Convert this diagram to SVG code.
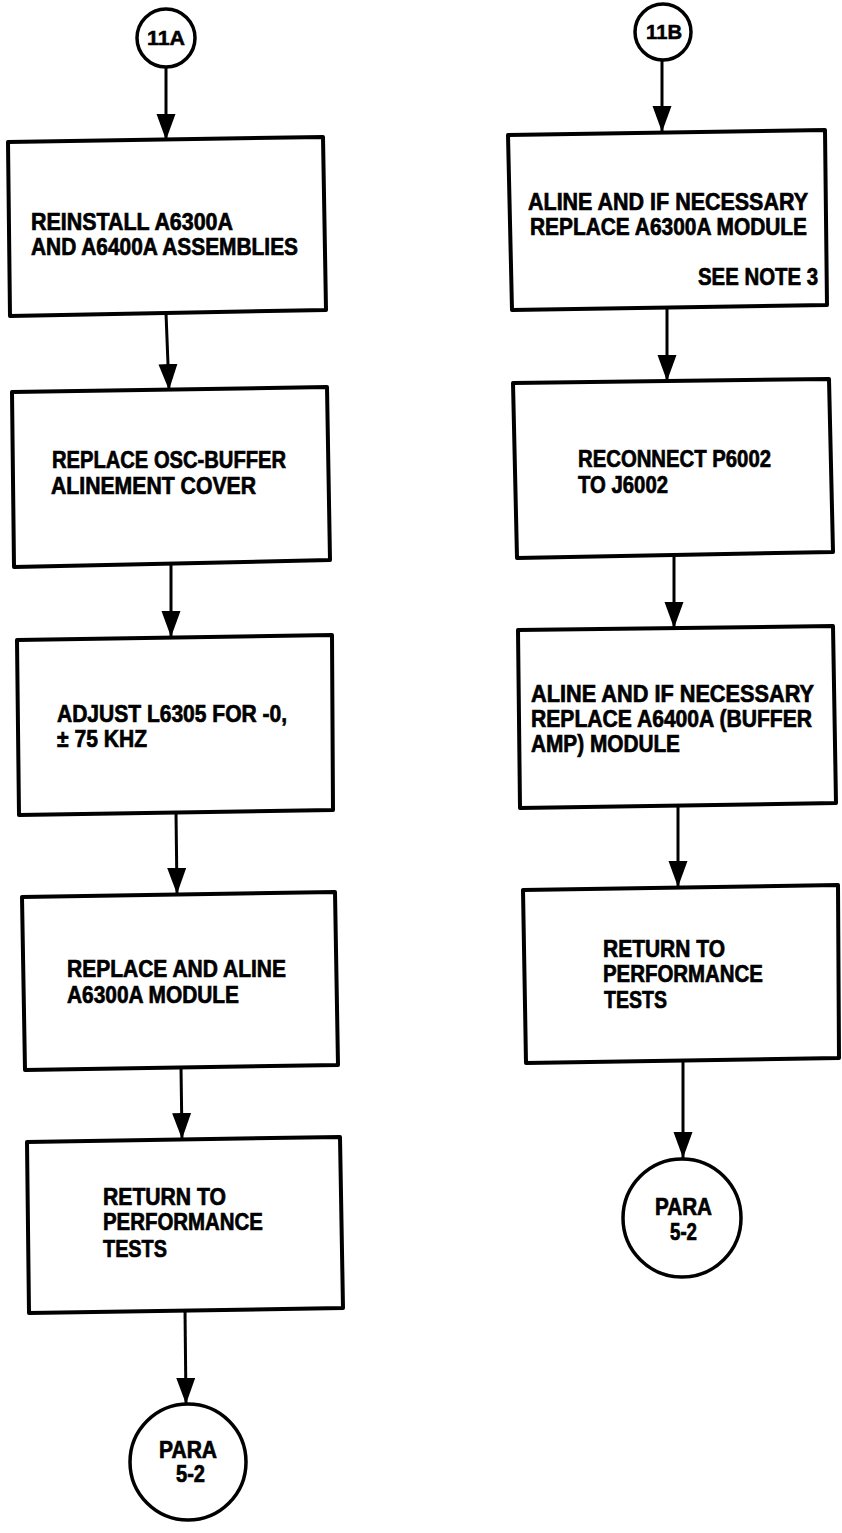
<svg xmlns="http://www.w3.org/2000/svg" width="842" height="1533" viewBox="0 0 842 1533">
  <style>
    .bg { fill: #ffffff; }
    .box { fill: #ffffff; stroke: #000000; stroke-width: 4; stroke-linejoin: round; }
    .term { fill: #ffffff; stroke: #000000; stroke-width: 3.5; }
    .edge { fill: none; stroke: #000000; stroke-width: 3; marker-end: url(#arrow); }
    text { font-family: "Liberation Sans", Arial, sans-serif; font-weight: bold; fill: #000000; stroke: #000000; }
    .t { font-size: 21px; stroke-width: 0.6; }
    .c { font-size: 20px; stroke-width: 0.6; }
    .s { font-size: 18px; stroke-width: 0.5; }
  </style>
  <defs>
    <marker id="arrow" markerUnits="userSpaceOnUse" markerWidth="27" markerHeight="20" refX="26" refY="9.5" orient="auto">
      <path d="M0,0 L26,9.5 L0,19 Z" fill="#000000"/>
    </marker>
  </defs>

  <rect class="bg" x="0" y="0" width="842" height="1533"/>

  <!-- connectors -->
  <g id="connectors">
    <line class="edge" x1="166" y1="67" x2="166" y2="140"/>
    <line class="edge" x1="166" y1="313" x2="169" y2="390"/>
    <line class="edge" x1="171" y1="563" x2="171" y2="637"/>
    <line class="edge" x1="176" y1="812" x2="177" y2="894"/>
    <line class="edge" x1="181" y1="1067" x2="182" y2="1139"/>
    <line class="edge" x1="185" y1="1310" x2="186" y2="1404"/>

    <line class="edge" x1="662" y1="60" x2="662" y2="132"/>
    <line class="edge" x1="667" y1="307" x2="667" y2="381"/>
    <line class="edge" x1="674" y1="555" x2="674" y2="628"/>
    <line class="edge" x1="678" y1="805" x2="678" y2="887"/>
    <line class="edge" x1="683" y1="1060" x2="683" y2="1158"/>
  </g>

  <!-- left column; labels are stretched vertically to get the tall condensed look -->
  <g id="start-11a">
    <circle class="term" cx="166" cy="38" r="29"/>
    <text class="s" transform="translate(147,45) scale(1,1.1)" textLength="38" lengthAdjust="spacingAndGlyphs">11A</text>
  </g>

  <g id="reinstall">
    <polygon class="box" points="8,142 323,137 326,310 10,316"/>
    <text class="t" transform="translate(31,230) scale(1,1.15)" textLength="202" lengthAdjust="spacingAndGlyphs">REINSTALL A6300A</text>
    <text class="t" transform="translate(31,255) scale(1,1.15)" textLength="267" lengthAdjust="spacingAndGlyphs">AND A6400A ASSEMBLIES</text>
  </g>

  <g id="replace-cover">
    <polygon class="box" points="12,392 327,387 330,560 14,567"/>
    <text class="t" transform="translate(52,468) scale(1,1.15)" textLength="234" lengthAdjust="spacingAndGlyphs">REPLACE OSC-BUFFER</text>
    <text class="t" transform="translate(51,494) scale(1,1.15)" textLength="205" lengthAdjust="spacingAndGlyphs">ALINEMENT COVER</text>
  </g>

  <g id="adjust-l6305">
    <polygon class="box" points="17,640 332,635 333,810 19,815"/>
    <text class="t" transform="translate(57,722) scale(1,1.15)" textLength="230" lengthAdjust="spacingAndGlyphs">ADJUST L6305 FOR -0,</text>
    <text class="t" transform="translate(57,747) scale(1,1.15)" textLength="90" lengthAdjust="spacingAndGlyphs">± 75 KHZ</text>
  </g>

  <g id="replace-aline">
    <polygon class="box" points="22,897 335,892 338,1065 25,1070"/>
    <text class="t" transform="translate(67,977) scale(1,1.15)" textLength="219" lengthAdjust="spacingAndGlyphs">REPLACE AND ALINE</text>
    <text class="t" transform="translate(67,1003) scale(1,1.15)" textLength="172" lengthAdjust="spacingAndGlyphs">A6300A MODULE</text>
  </g>

  <g id="return-left">
    <polygon class="box" points="27,1142 340,1137 343,1308 29,1313"/>
    <text class="t" transform="translate(103,1205) scale(1,1.15)" textLength="123" lengthAdjust="spacingAndGlyphs">RETURN TO</text>
    <text class="t" transform="translate(103,1230) scale(1,1.15)" textLength="160" lengthAdjust="spacingAndGlyphs">PERFORMANCE</text>
    <text class="t" transform="translate(103,1257) scale(1,1.15)" textLength="64" lengthAdjust="spacingAndGlyphs">TESTS</text>
  </g>

  <g id="para-left">
    <circle class="term" cx="188" cy="1462" r="58"/>
    <text class="c" transform="translate(159,1458) scale(1,1.15)" textLength="58" lengthAdjust="spacingAndGlyphs">PARA</text>
    <text class="c" transform="translate(176,1482) scale(1,1.15)" textLength="29" lengthAdjust="spacingAndGlyphs">5-2</text>
  </g>

  <!-- right column -->
  <g id="start-11b">
    <circle class="term" cx="663" cy="32" r="28"/>
    <text class="s" transform="translate(646,39) scale(1,1.1)" textLength="36" lengthAdjust="spacingAndGlyphs">11B</text>
  </g>

  <g id="aline-a6300a">
    <polygon class="box" points="508,135 825,130 827,305 512,310"/>
    <text class="t" transform="translate(528,210) scale(1,1.15)" textLength="280" lengthAdjust="spacingAndGlyphs">ALINE AND IF NECESSARY</text>
    <text class="t" transform="translate(530,235) scale(1,1.15)" textLength="277" lengthAdjust="spacingAndGlyphs">REPLACE A6300A MODULE</text>
    <text class="t" transform="translate(698,285) scale(1,1.15)" textLength="120" lengthAdjust="spacingAndGlyphs">SEE NOTE 3</text>
  </g>

  <g id="reconnect">
    <polygon class="box" points="513,383 829,379 833,552 517,558"/>
    <text class="t" transform="translate(578,467) scale(1,1.15)" textLength="193" lengthAdjust="spacingAndGlyphs">RECONNECT P6002</text>
    <text class="t" transform="translate(578,493) scale(1,1.15)" textLength="90" lengthAdjust="spacingAndGlyphs">TO J6002</text>
  </g>

  <g id="aline-a6400a">
    <polygon class="box" points="518,630 833,626 836,803 520,808"/>
    <text class="t" transform="translate(531,702) scale(1,1.15)" textLength="283" lengthAdjust="spacingAndGlyphs">ALINE AND  IF NECESSARY</text>
    <text class="t" transform="translate(531,727) scale(1,1.15)" textLength="281" lengthAdjust="spacingAndGlyphs">REPLACE A6400A (BUFFER</text>
    <text class="t" transform="translate(531,752) scale(1,1.15)" textLength="149" lengthAdjust="spacingAndGlyphs">AMP) MODULE</text>
  </g>

  <g id="return-right">
    <polygon class="box" points="523,890 838,885 839,1058 526,1063"/>
    <text class="t" transform="translate(603,957) scale(1,1.15)" textLength="122" lengthAdjust="spacingAndGlyphs">RETURN TO</text>
    <text class="t" transform="translate(603,982) scale(1,1.15)" textLength="160" lengthAdjust="spacingAndGlyphs">PERFORMANCE</text>
    <text class="t" transform="translate(604,1008) scale(1,1.15)" textLength="63" lengthAdjust="spacingAndGlyphs">TESTS</text>
  </g>

  <g id="para-right">
    <circle class="term" cx="682" cy="1218" r="59"/>
    <text class="c" transform="translate(655,1215) scale(1,1.15)" textLength="57" lengthAdjust="spacingAndGlyphs">PARA</text>
    <text class="c" transform="translate(670,1240) scale(1,1.15)" textLength="27" lengthAdjust="spacingAndGlyphs">5-2</text>
  </g>
</svg>
